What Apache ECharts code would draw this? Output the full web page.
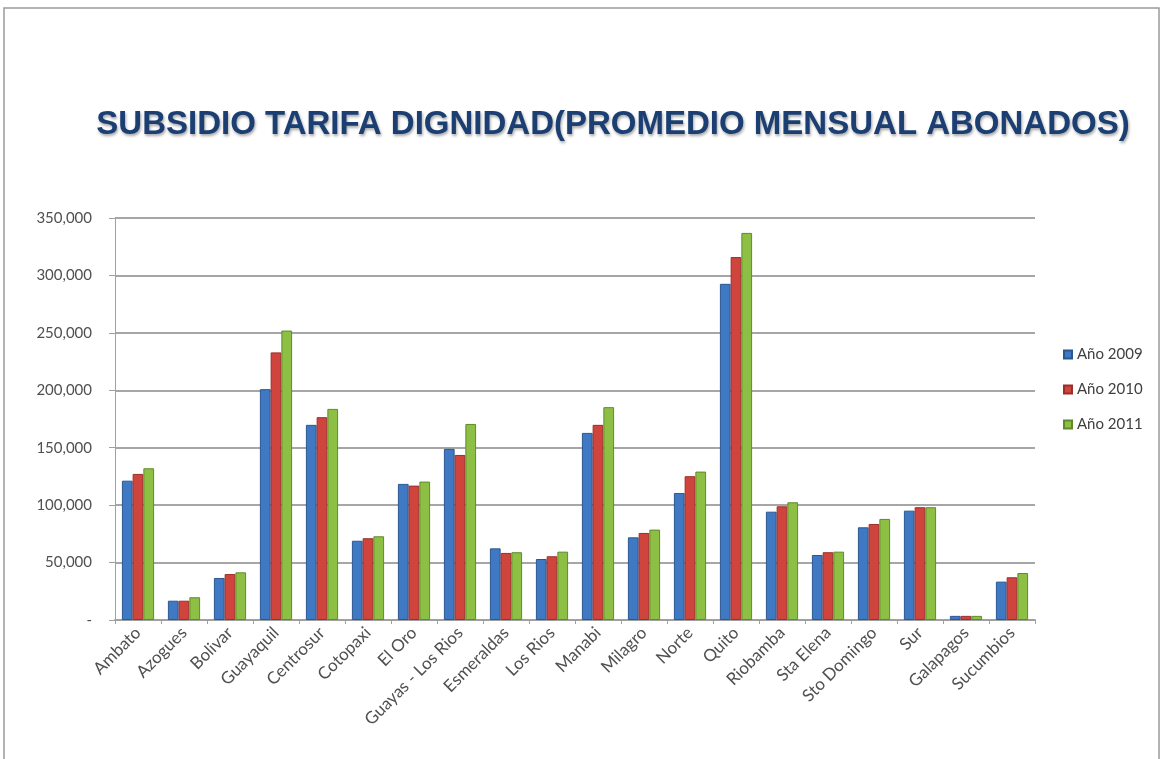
<!DOCTYPE html>
<html>
<head>
<meta charset="utf-8">
<script src="https://cdn.jsdelivr.net/npm/echarts@6/dist/echarts.min.js"></script>
<style>
  html, body { margin: 0; padding: 0; background: #ffffff; }
  #chart { width: 1164px; height: 759px; }
</style>
</head>
<body>
<div id="chart"></div>
<script>
// Distribuidoras
const categories = ['Ambato', 'Azogues', 'Bolivar', 'Guayaquil', 'Centrosur', 'Cotopaxi', 'El Oro',
  'Guayas - Los Rios', 'Esmeraldas', 'Los Rios', 'Manabi', 'Milagro', 'Norte', 'Quito',
  'Riobamba', 'Sta Elena', 'Sto Domingo', 'Sur', 'Galapagos', 'Sucumbios'];

// Promedio mensual de abonados por año
const anio2009 = [121300, 16800, 36600, 201000, 169900, 69000, 118500,
  149000, 62400, 53100, 162900, 72000, 110600, 292700,
  94300, 56600, 80700, 95200, 3600, 33400];
const anio2010 = [127200, 16800, 40000, 233000, 176600, 71200, 117000,
  143700, 58400, 55500, 169900, 75800, 125200, 316000,
  99000, 59000, 83600, 98200, 3600, 37200];
const anio2011 = [132100, 19800, 41500, 252000, 183800, 72900, 120500,
  170700, 59000, 59500, 185300, 78700, 129200, 337000,
  102500, 59500, 88000, 98200, 3600, 40900];

const seriesNames = ['Año 2009', 'Año 2010', 'Año 2011'];
const seriesColors = ['#3F78C3', '#D0443E', '#8EBF45'];
const seriesBorders = ['#2B5791', '#9A2F2A', '#5F8A2A'];

const chart = echarts.init(document.getElementById('chart'));

const makeSeries = (name, data, i) => ({
  name: name,
  type: 'bar',
  data: data,
  barGap: '0%',
  barCategoryGap: '30%',
  itemStyle: {
    color: seriesColors[i],
    borderColor: seriesBorders[i],
    borderWidth: 1
  }
});

chart.setOption({
  backgroundColor: '#ffffff',
  animation: false,
  title: {
    text: 'SUBSIDIO TARIFA DIGNIDAD(PROMEDIO MENSUAL ABONADOS)',
    left: 608,
    top: 103,
    textAlign: 'center',
    textStyle: {
      fontFamily: '"Liberation Sans", Arial, sans-serif',
      fontWeight: 'bold',
      fontSize: 33,
      color: '#1B3F73',
      textShadowColor: 'rgba(0,0,0,0.35)',
      textShadowBlur: 3,
      textShadowOffsetX: 1,
      textShadowOffsetY: 2
    }
  },
  legend: {
    orient: 'vertical',
    left: 1058,
    top: 342,
    itemWidth: 8,
    itemHeight: 8,
    itemGap: 20,
    icon: 'rect',
    data: seriesNames,
    textStyle: { fontFamily: 'Lato, "Open Sans", sans-serif', fontSize: 15, color: '#404040' }
  },
  grid: {
    left: 115,
    right: 129,
    top: 218,
    bottom: 139,
    containLabel: false
  },
  xAxis: {
    type: 'category',
    data: categories,
    axisLine: { lineStyle: { color: '#A0A0A0', width: 2 } },
    axisTick: { show: true, alignWithLabel: false, length: 4, lineStyle: { color: '#A0A0A0' } },
    axisLabel: {
      interval: 0,
      rotate: 45,
      margin: 10,
      fontFamily: 'Lato, "Open Sans", sans-serif',
      fontSize: 17,
      color: '#505050'
    }
  },
  yAxis: {
    type: 'value',
    min: 0,
    max: 350000,
    interval: 50000,
    axisLine: { show: true, lineStyle: { color: '#A0A0A0', width: 1 } },
    axisTick: { show: true, length: 6, lineStyle: { color: '#A0A0A0' } },
    splitLine: { lineStyle: { color: '#A6A6A6', width: 2 } },
    axisLabel: {
      margin: 23,
      padding: [12, 0, 0, 0],
      fontFamily: 'Lato, "Open Sans", sans-serif',
      fontSize: 15,
      color: '#505050',
      formatter: v => v === 0 ? '-' : v.toLocaleString('en-US')
    }
  },
  graphic: [{
    type: 'rect',
    shape: { x: 4, y: 8, width: 1155, height: 770 },
    style: { fill: 'none', stroke: '#9A9A9A', lineWidth: 1.5 },
    silent: true
  }],
  series: [
    makeSeries(seriesNames[0], anio2009, 0),
    makeSeries(seriesNames[1], anio2010, 1),
    makeSeries(seriesNames[2], anio2011, 2)
  ]
});
</script>
</body>
</html>
